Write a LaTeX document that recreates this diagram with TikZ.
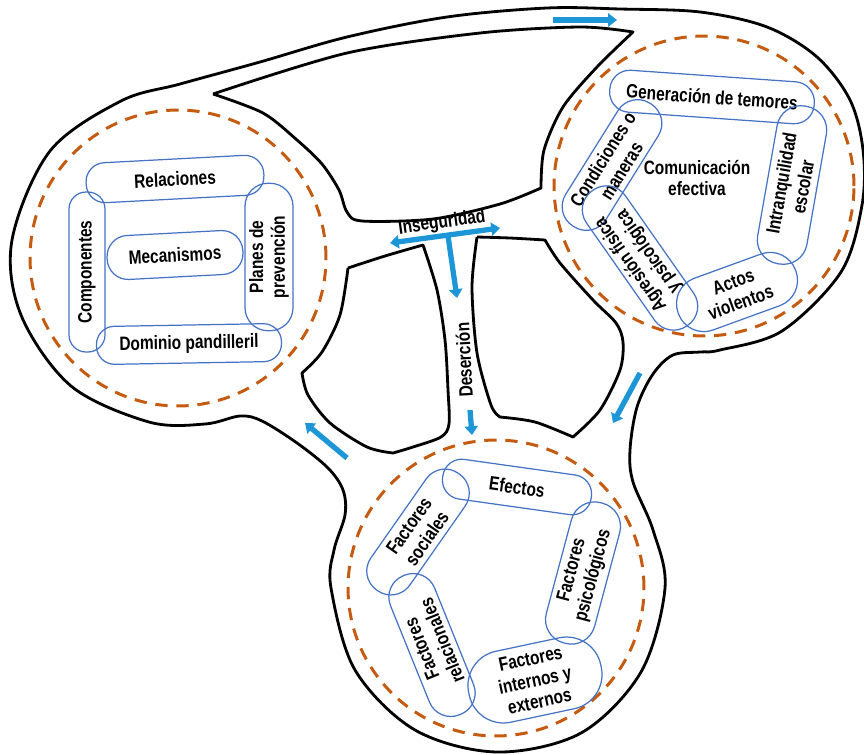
\documentclass[tikz,border=0pt]{standalone}
\usepackage{fontspec}
\setmainfont{Liberation Sans}[FakeStretch=0.8]
\usetikzlibrary{arrows.meta}

\definecolor{azulflecha}{RGB}{28,150,214}
\definecolor{azulcaja}{RGB}{68,114,196}
\definecolor{naranja}{RGB}{197,90,17}

\tikzset{
	contorno/.style={black, line width=1.6pt, line join=round},
	anillo/.style={naranja, line width=1.7pt, dash pattern=on 7pt off 5pt},
	tema/.style={draw=azulcaja, line width=0.7pt, rectangle, rounded corners=#1, align=center, inner sep=1pt, font=\bfseries\fontsize{11}{12.5}\selectfont},
	tema/.default=0.38cm,
	rotulo/.style={font=\bfseries\fontsize{11}{12.5}\selectfont, align=center, inner sep=1pt},
	flecha/.style={azulflecha, line width=3pt, -{Triangle[length=5pt,width=7.5pt]}}
}

\begin{document}
\begin{tikzpicture}[x=0.02cm, y=-0.02cm]
	\useasboundingbox (0,0) rectangle (864,754);

	% outer line of the three circles
	\draw[contorno] plot[smooth cycle, tension=0.55] coordinates {
		(121,101) (180,84) (260,62) (347,37) (447,17) (547,8) (620,9) (700,12)
		(767,27) (817,57) (850,100) (863,150) (862,205) (841,272) (782,331) (720,350)
		(700,352) (673,355) (653,374) (637,407) (630,450) (633,482) (653,530) (665,588)
		(641,672) (581,733) (497,752) (415,730) (355,670) (331,588) (334,550) (345,515)
		(343,490) (328,468) (297,443) (262,421) (240,416) (205,424) (149,422) (71,386)
		(21,315) (12,240) (50,151)};

	% holes
	\draw[contorno] plot[smooth, tension=0.5] coordinates {(213,94) (347,53) (480,33) (580,27) (633,32)}
		-- plot[smooth, tension=0.5] coordinates {(633,32) (597,67) (563,107) (544,150) (541,188)}
		-- plot[smooth, tension=0.5] coordinates {(541,188) (500,204) (433,219) (362,221) (347,212) (339,190) (322,164) (297,140) (263,113) (213,94)};
	\draw[contorno] plot[smooth, tension=0.5] coordinates {(348,268) (385,256) (423,245)}
		-- plot[smooth, tension=0.5] coordinates {(423,245) (437,290) (445,340) (448,390) (449,424) (441,437) (413,447) (393,453)}
		-- plot[smooth, tension=0.5] coordinates {(393,453) (367,447) (330,423) (308,395) (302,373)}
		-- plot[smooth, tension=0.5] coordinates {(302,373) (322,352) (340,315) (348,268)};
	\draw[contorno] plot[smooth, tension=0.5] coordinates {(477,237) (510,238) (545,240)}
		-- plot[smooth, tension=0.5] coordinates {(545,240) (560,263) (593,300) (616,323) (623,342) (620,370) (600,410) (573,437)}
		-- plot[smooth, tension=0.5] coordinates {(573,437) (535,422) (500,417)}
		-- plot[smooth, tension=0.5] coordinates {(500,417) (491,405) (477,353) (472,287) (477,237)};

	% dashed rings
	\draw[anillo] (178,258) circle[radius=2.96cm];
	\draw[anillo] (704,186) circle[radius=3cm];
	\draw[anillo] (496,588) circle[radius=2.96cm];

	% left circle
	\node[tema, rotate=3, minimum width=3.56cm, minimum height=0.8cm] (relaciones) at (175,179) {Relaciones};
	\node[tema=0.34cm, rotate=90, minimum width=3.2cm, minimum height=0.72cm] (componentes) at (87,272) {Componentes};
	\node[tema=0.46cm, rotate=90, minimum width=2.95cm, minimum height=0.96cm] (planes) at (269,257) {Planes de\\prevención};
	\node[tema=0.36cm, rotate=1, minimum width=3.7cm, minimum height=0.76cm] (dominio) at (189,344) {Dominio pandilleril};
	\node[tema=0.42cm, rotate=3, minimum width=2.72cm, minimum height=0.88cm] (mecanismos) at (175,255) {Mecanismos};

	% right circle
	\node[tema=0.4cm, rotate=-4, minimum width=4.1cm, minimum height=0.84cm] (generacion) at (712,97) {Generación de temores};
	\node[tema=0.46cm, rotate=58, minimum width=2.9cm, minimum height=0.95cm] (condiciones) at (612,165) {Condiciones o\\maneras};
	\node[tema=0.48cm, rotate=80, minimum width=3.2cm, minimum height=1cm] (intranquilidad) at (792,185) {Intranquilidad\\escolar};
	\node[tema=0.54cm, rotate=20, minimum width=2.5cm, minimum height=1.1cm] (actos) at (737,292) {Actos\\violentos};
	\node[tema=0.46cm, rotate=125, minimum width=3.3cm, minimum height=0.95cm] (agresion) at (640,258) {Agresión física\\y psicológica};
	\node[rotulo] (comunicacion) at (697,178) {Comunicación\\efectiva};

	% bottom circle
	\node[tema, rotate=-8, minimum width=3cm, minimum height=0.8cm] (efectos) at (517,487) {Efectos};
	\node[tema=0.46cm, rotate=55, minimum width=2.85cm, minimum height=0.95cm] (sociales) at (418,532) {Factores\\sociales};
	\node[tema=0.46cm, rotate=112, minimum width=3cm, minimum height=0.95cm] (relacionales) at (432,645) {Factores\\relacionales};
	\node[tema=0.7cm, rotate=12, minimum width=2.7cm, minimum height=1.45cm] (internos) at (535,680) {Factores\\internos y\\externos};
	\node[tema=0.48cm, rotate=75, minimum width=2.9cm, minimum height=1cm] (psicologicos) at (583,573) {Factores\\psicológicos};

	% arrows
	\coordinate (arribaA) at (553,20);
	\coordinate (arribaB) at (617,20);
	\coordinate (derechaA) at (640,373);
	\coordinate (derechaB) at (613,423);
	\coordinate (izquierdaA) at (347,458);
	\coordinate (izquierdaB) at (305,423);
	\coordinate (insegA) at (390,243);
	\coordinate (insegB) at (500,228);
	\coordinate (bajadaA) at (448,236);
	\coordinate (bajadaB) at (457,298);
	\coordinate (entradaA) at (470,410);
	\coordinate (entradaB) at (472,435);
	\draw[flecha] (arribaA) -- (arribaB);
	\draw[flecha] (derechaA) -- (derechaB);
	\draw[flecha] (izquierdaA) -- (izquierdaB);
	\draw[flecha, {Triangle[length=5pt,width=7.5pt]}-{Triangle[length=5pt,width=7.5pt]}] (insegA) -- (insegB);
	\draw[flecha] (bajadaA) -- (bajadaB);
	\draw[flecha] (entradaA) -- (entradaB);

	\node[rotulo, rotate=8] (inseguridad) at (442,223) {Inseguridad};
	\node[rotulo, rotate=93] (desercion) at (464,360) {Deserción};
\end{tikzpicture}
\end{document}
